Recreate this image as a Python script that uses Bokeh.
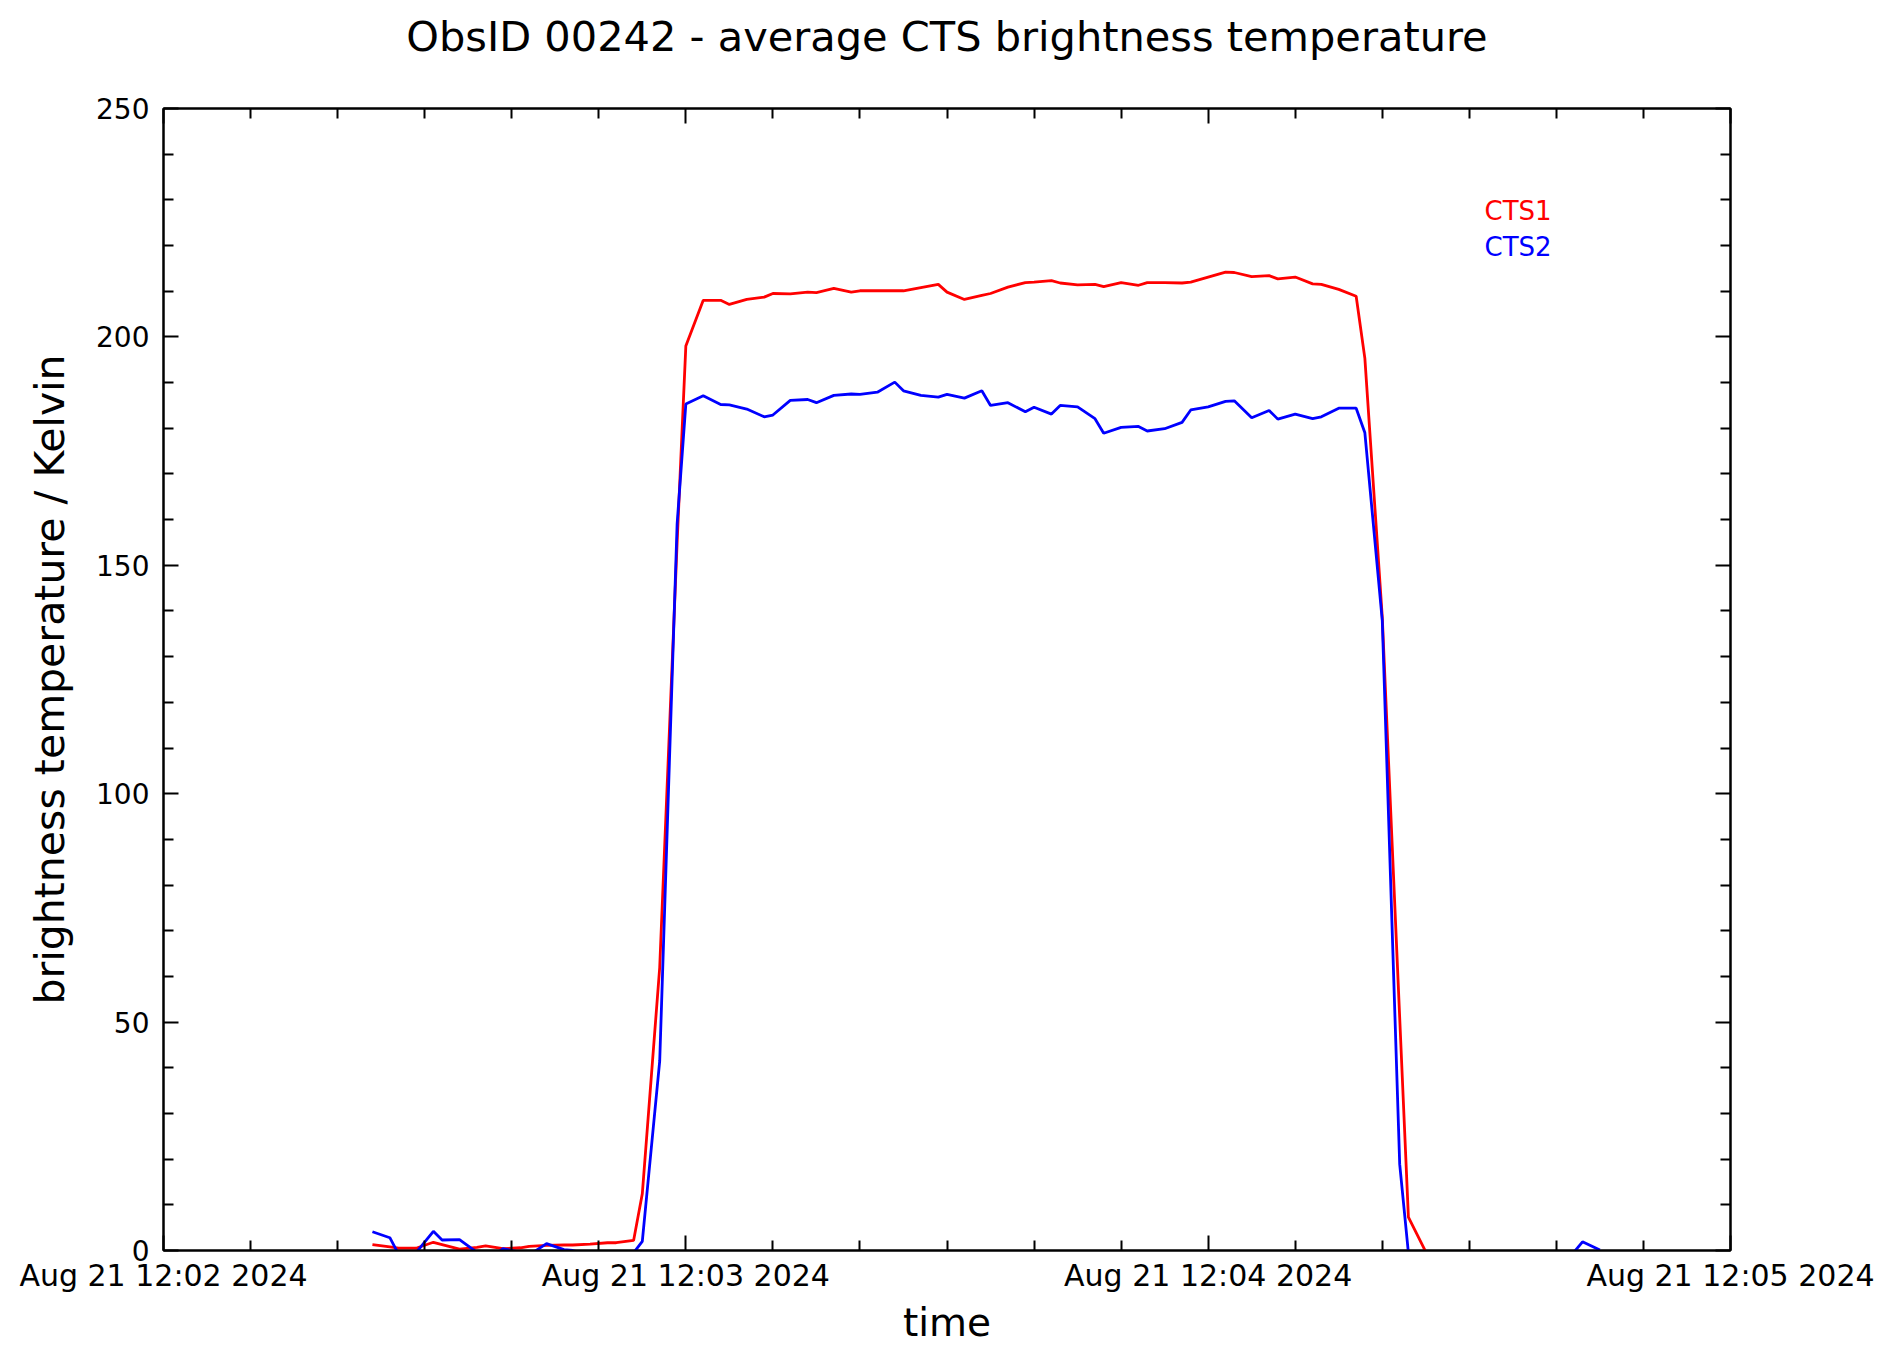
import pandas as pd
from bokeh.plotting import figure
from bokeh.models import (Range1d, FixedTicker, DatetimeTickFormatter, DatetimeAxis,
                          LinearAxis, Label, Title, ColumnDataSource)
from bokeh.embed import file_html
from bokeh.resources import INLINE

# ---------------- data ----------------
BASE = "2024-08-21 12:02:00"
title_text = "ObsID 00242 - average CTS brightness temperature"
x_label = "time"
y_label = "brightness temperature / Kelvin"

# seconds after 12:02:00
seconds = [24, 26, 27, 29, 31, 32, 34, 36, 37, 39, 41, 42, 44, 46, 47, 49, 51, 52, 54,
           55, 57, 59,
           60, 62, 64, 65, 67, 69, 70, 72, 74, 75, 77, 79, 80, 82, 84, 85, 87, 89, 90,
           92, 94, 95, 97, 99, 100,
           102, 103, 105, 107, 108, 110, 112, 113, 115, 117, 118, 120, 122, 123, 125,
           127, 128, 130, 132, 133, 135, 137, 138,
           140, 142, 143, 145,
           147, 148, 150, 152, 153, 155, 157, 158, 160, 162, 163, 165]

cts1 = [1.3, 0.8, 0.5, 0.5, 1.8, 1.3, 0.3, 0.7, 1.0, 0.4, 0.6, 0.9, 1.1, 1.2, 1.2, 1.4, 1.7, 1.7, 2.2,
        12.4, 62.0, 155.0,
        198.0, 208.0, 208.0, 207.1, 208.2, 208.7, 209.5, 209.4, 209.8, 209.7, 210.6, 209.8, 210.1,
        210.1, 210.1, 210.1, 210.8, 211.5, 209.8, 208.2, 209.1, 209.5, 210.9, 211.9, 212.0,
        212.3, 211.8, 211.4, 211.5, 211.0, 211.9, 211.3, 211.9, 211.9, 211.8, 212.0, 213.1,
        214.2, 214.1, 213.2, 213.4, 212.7, 213.1, 211.6, 211.5, 210.4, 208.9, 195.3,
        138.6, 51.0, 7.3, -0.3,
        -1.2, -1.8, -1.4, -2.0, -1.6, -1.3, -1.9, -1.5, -1.7, -1.4, -1.8, -1.6]

cts2 = [4.1, 2.8, -0.8, -0.5, 4.2, 2.3, 2.4, -0.4, -2.5, 0.4, -0.4, -1.0, 1.5, 0.2, 0.0, -1.0, -1.2, -1.0, -0.5,
        2.0, 41.5, 159.1,
        185.3, 187.1, 185.2, 185.1, 184.2, 182.5, 182.9, 186.1, 186.3, 185.6, 187.2, 187.5, 187.4,
        187.9, 190.1, 188.2, 187.2, 186.8, 187.4, 186.6, 188.2, 185.0, 185.6, 183.6, 184.6,
        183.1, 185.0, 184.7, 182.1, 178.9, 180.2, 180.4, 179.4, 179.9, 181.3, 184.0, 184.7,
        185.9, 186.0, 182.3, 183.9, 182.0, 183.1, 182.1, 182.5, 184.4, 184.4, 179.0,
        137.9, 18.9, -0.5, -2.0,
        -2.2, -1.8, -2.4, -2.0, -1.6, -2.1, -1.9, -1.5, -1.2, -0.4, 1.9, 0.1]

x_major_ticks = ["2024-08-21 12:02:00", "2024-08-21 12:03:00",
                 "2024-08-21 12:04:00", "2024-08-21 12:05:00"]
y_major_ticks = [0, 50, 100, 150, 200, 250]
y_minor_ticks = [10, 20, 30, 40, 60, 70, 80, 90, 110, 120, 130, 140,
                 160, 170, 180, 190, 210, 220, 230, 240]
series_names = ["CTS1", "CTS2"]
series_colors = ["#ff0000", "#0000ff"]

# ---------------- build ----------------
base = pd.Timestamp(BASE)
times = [base + pd.Timedelta(seconds=s) for s in seconds]
src = ColumnDataSource(dict(t=times, cts1=cts1, cts2=cts2))

def ms(ts):
    return (pd.Timestamp(ts) - pd.Timestamp("1970-01-01")).total_seconds() * 1000.0

major_ms = [ms(t) for t in x_major_ticks]
minor_ms = []
for i in range(len(major_ms) - 1):
    for k in range(1, 6):
        minor_ms.append(major_ms[i] + k * 10000.0)

FONT = "DejaVu Sans"
W, H = 1876, 1348
BL, BR, BT, BB = 163, 146, 108, 98

p = figure(width=W, height=H, x_axis_type="datetime", title=None,
           x_range=Range1d(pd.Timestamp(x_major_ticks[0]), pd.Timestamp(x_major_ticks[-1])),
           y_range=Range1d(0, 250),
           output_backend="svg", toolbar_location=None,
           min_border_left=BL, min_border_right=BR,
           min_border_top=BT, min_border_bottom=BB)

p.xgrid.visible = False
p.ygrid.visible = False
p.background_fill_color = "white"
p.border_fill_color = "white"
p.outline_line_color = "black"
p.outline_line_width = 2

fmt = "%b %d %H:%M %Y"
def style_axis(ax, label_size):
    ax.axis_line_color = "black"
    ax.axis_line_width = 2
    ax.major_tick_in = 15
    ax.major_tick_out = 0
    ax.minor_tick_in = 10
    ax.minor_tick_out = 0
    ax.major_tick_line_color = "black"
    ax.minor_tick_line_color = "black"
    ax.major_tick_line_width = 2
    ax.minor_tick_line_width = 2
    ax.major_label_text_font = FONT
    ax.major_label_text_font_size = label_size
    ax.major_label_text_color = "black"

xax = p.xaxis[0]
xax.ticker = FixedTicker(ticks=major_ms, minor_ticks=minor_ms)
xax.formatter = DatetimeTickFormatter(seconds=fmt, minsec=fmt, minutes=fmt, hourmin=fmt,
                                      hours=fmt, days=fmt, months=fmt, years=fmt)
style_axis(xax, "30px")
xax.major_label_standoff = 7
xax.axis_label = x_label
xax.axis_label_text_font = FONT
xax.axis_label_text_font_size = "39px"
xax.axis_label_text_font_style = "normal"
xax.axis_label_text_color = "black"
xax.axis_label_standoff = 4

yax = p.yaxis[0]
yax.ticker = FixedTicker(ticks=y_major_ticks, minor_ticks=y_minor_ticks)
style_axis(yax, "28px")
yax.major_label_standoff = 14
yax.axis_label = y_label
yax.axis_label_text_font = FONT
yax.axis_label_text_font_size = "41px"
yax.axis_label_text_font_style = "normal"
yax.axis_label_text_color = "black"
yax.axis_label_standoff = 19

top = DatetimeAxis(ticker=FixedTicker(ticks=major_ms, minor_ticks=minor_ms))
style_axis(top, "0px")
top.major_label_text_alpha = 0
p.add_layout(top, "above")

right = LinearAxis(ticker=FixedTicker(ticks=y_major_ticks, minor_ticks=y_minor_ticks))
style_axis(right, "0px")
right.major_label_text_alpha = 0
p.add_layout(right, "right")

# spacer between the frame and the title, then the title itself
p.add_layout(Title(text=" ", text_font_size="1px", standoff=45), "above")
p.add_layout(Title(text=title_text, text_font=FONT, text_font_size="41.5px",
                   text_font_style="normal", text_color="black", align="center",
                   vertical_align="bottom", standoff=0), "above")

p.line("t", "cts1", source=src, line_color=series_colors[0], line_width=2.8)
p.line("t", "cts2", source=src, line_color=series_colors[1], line_width=2.8)

for name, col, ypos in zip(series_names, series_colors, [1040, 1004]):
    p.add_layout(Label(x=1321, y=ypos, x_units="screen", y_units="screen",
                       text=name, text_color=col, text_font=FONT,
                       text_font_size="26px", text_align="left",
                       text_baseline="alphabetic"))

open("out.html", "w").write(file_html(p, INLINE))
